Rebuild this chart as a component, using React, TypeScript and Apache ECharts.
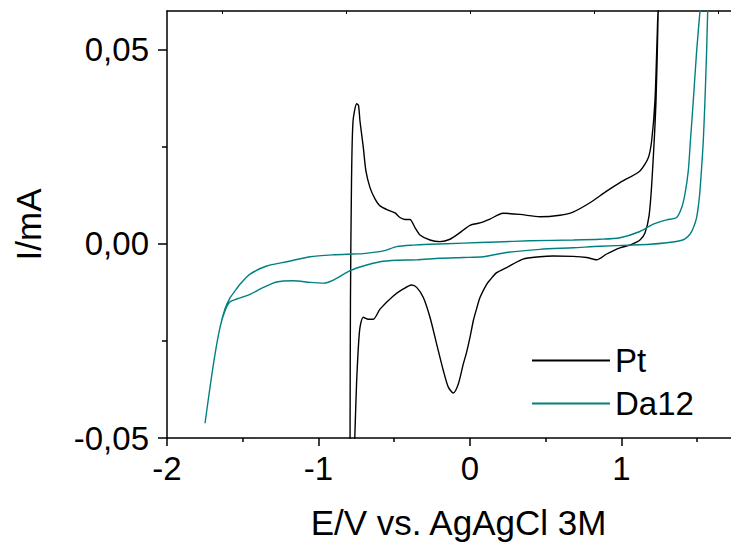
import React, { useEffect, useRef } from "react";
import * as echarts from "echarts";

// Pt curve (E in V, I in mA)
const ptE = [-0.792, -0.789, -0.782, -0.772, -0.748, -0.736, -0.726, -0.704, -0.687, -0.66, -0.627, -0.594, -0.528, -0.495, -0.462, -0.429, -0.396, -0.363, -0.33, -0.264, -0.198, -0.132, -0.066, 0.0, 0.066, 0.132, 0.218, 0.33, 0.462, 0.594, 0.68, 0.792, 0.902, 0.99, 1.122, 1.177, 1.199, 1.221, 1.236, 1.243,
  1.246, 1.228, 1.201, 1.182, 1.155, 1.122, 1.056, 0.99, 0.902, 0.836, 0.77, 0.68, 0.548, 0.462, 0.35, 0.242, 0.176, 0.132, 0.11, 0.066, 0.04, 0.022, 0.0, -0.023, -0.044, -0.077, -0.11, -0.143, -0.176, -0.22, -0.264, -0.308, -0.352, -0.385, -0.44, -0.506, -0.594, -0.638, -0.671, -0.704, -0.726, -0.737, -0.748, -0.759, -0.766];
const ptI = [-0.0558, -0.0147, 0.0162, 0.0316, 0.0361, 0.0357, 0.0316, 0.0248, 0.0188, 0.0145, 0.0116, 0.0098, 0.0085, 0.008, 0.0068, 0.0063, 0.0063, 0.0042, 0.0023, 0.001, 0.0006, 0.0012, 0.0029, 0.0048, 0.0054, 0.0064, 0.0079, 0.0076, 0.007, 0.0074, 0.0082, 0.0106, 0.0136, 0.0158, 0.0188, 0.0222, 0.0265, 0.0368, 0.0539, 0.0612,
  0.0612, 0.0368, 0.0162, 0.0072, 0.0028, 0.001, -0.0003, -0.001, -0.0026, -0.0041, -0.0035, -0.0032, -0.0031, -0.0033, -0.0039, -0.0061, -0.0074, -0.0093, -0.0104, -0.0138, -0.0172, -0.0198, -0.0241, -0.028, -0.0309, -0.0361, -0.0384, -0.0369, -0.0326, -0.0258, -0.0189, -0.0138, -0.0112, -0.0106, -0.0116, -0.0134, -0.0168, -0.0194, -0.0194, -0.0189, -0.0215, -0.0267, -0.0352, -0.0481, -0.0558];

// Da12 curve
const daE = [1.571, 1.569, 1.562, 1.551, 1.54, 1.529, 1.515, 1.496, 1.472, 1.452, 1.419, 1.386, 1.298, 1.188, 1.078, 0.858, 0.682, 0.462, 0.242, 0.088, -0.044, -0.198, -0.352, -0.484, -0.594, -0.704, -0.792, -0.902, -0.968, -1.056, -1.166, -1.276, -1.364, -1.452, -1.54, -1.584, -1.617, -1.65, -1.683, -1.716, -1.749,
  -1.716, -1.683, -1.65, -1.617, -1.584, -1.551, -1.518, -1.452, -1.342, -1.21, -1.056, -0.902, -0.77, -0.704, -0.572, -0.484, -0.374, -0.264, -0.044, 0.176, 0.396, 0.682, 0.858, 0.99, 1.122, 1.21, 1.298, 1.364, 1.397, 1.419, 1.441, 1.455, 1.474, 1.496, 1.518, 1.52];
const daI = [0.0612, 0.0599, 0.0496, 0.0368, 0.0265, 0.0196, 0.0123, 0.0068, 0.0039, 0.0025, 0.0013, 0.0008, 0.0003, -0.0001, -0.0003, -0.0006, -0.001, -0.0014, -0.0022, -0.0033, -0.0035, -0.0037, -0.0041, -0.0042, -0.0046, -0.0057, -0.0069, -0.0093, -0.0101, -0.0099, -0.0095, -0.0098, -0.0112, -0.013, -0.0142, -0.0149, -0.0172, -0.0215, -0.0284, -0.0369, -0.0462,
  -0.0369, -0.0284, -0.0215, -0.0167, -0.0139, -0.0121, -0.0104, -0.0078, -0.0057, -0.0046, -0.0033, -0.0028, -0.0026, -0.0025, -0.0018, -0.0007, -0.0003, -0.0001, 0.0002, 0.0005, 0.0008, 0.001, 0.0012, 0.0016, 0.0032, 0.0051, 0.0062, 0.0068, 0.0093, 0.0128, 0.0188, 0.0265, 0.0368, 0.0496, 0.0599, 0.0612];

const xMajorTicks = [-2, -1, 0, 1];
const xMinorTicks = [-1.5, -0.5, 0.5, 1.5];
const xTopTicks = [-1.636, -0.818, 0, 0.818, 1.636];
const yMajorTicks = [-0.05, 0, 0.05];
const yMinorTicks = [-0.025, 0.025];

const FONT = "'Liberation Sans', Arial, sans-serif";
const X_MIN = -2;
const X_MAX = 1.723;
const Y_MIN = -0.05;
const Y_MAX = 0.06;

const zip = (a: number[], b: number[]) => a.map((v, i) => [v, b[i]]);

export default function App() {
  const ref = useRef<HTMLDivElement>(null);
  useEffect(() => {
    const chart = echarts.init(ref.current!, null, { renderer: "svg" });
    const axisLineStyle = { color: "#000", width: 1.5 };
    const option: any = {
      animation: false,
      backgroundColor: "#fff",
      grid: { left: 167, top: 11, width: 564, height: 427, outerBoundsMode: "none" },
      legend: {
        left: 527,
        top: 339,
        orient: "vertical",
        itemWidth: 78,
        itemHeight: 2,
        itemGap: 10,
        icon: "rect",
        data: ["Pt", "Da12"],
        textStyle: { fontSize: 33, fontFamily: FONT, color: "#000", lineHeight: 33 },
      },
      xAxis: [
        {
          type: "value",
          min: X_MIN,
          max: X_MAX,
          position: "bottom",
          axisLine: { show: true, onZero: false, lineStyle: axisLineStyle },
          axisTick: { show: true, inside: false, length: 8, customValues: xMajorTicks, lineStyle: axisLineStyle },
          axisLabel: {
            customValues: xMajorTicks,
            fontSize: 33,
            fontFamily: FONT,
            color: "#000",
            margin: 14,
            formatter: (v: number) => String(v),
          },
          splitLine: { show: false },
          name: "E/V vs. AgAgCl 3M",
          nameLocation: "middle",
          nameGap: 67,
          nameTextStyle: { fontSize: 35, fontFamily: FONT, color: "#000", padding: [0, 0, 0, 19] },
        },
        {
          type: "value",
          min: X_MIN,
          max: X_MAX,
          position: "bottom",
          axisLine: { show: false, onZero: false },
          axisTick: { show: true, inside: false, length: 4, customValues: xMinorTicks, lineStyle: axisLineStyle },
          axisLabel: { show: false },
          splitLine: { show: false },
        },
        {
          type: "value",
          min: X_MIN,
          max: X_MAX,
          position: "top",
          axisLine: { show: true, onZero: false, lineStyle: axisLineStyle },
          axisTick: { show: true, inside: true, length: 3, customValues: xTopTicks, lineStyle: { color: "#000", width: 1 } },
          axisLabel: { show: false },
          splitLine: { show: false },
        },
      ],
      yAxis: [
        {
          type: "value",
          min: Y_MIN,
          max: Y_MAX,
          position: "left",
          axisLine: { show: true, onZero: false, lineStyle: axisLineStyle },
          axisTick: { show: true, inside: false, length: 9, customValues: yMajorTicks, lineStyle: axisLineStyle },
          axisLabel: {
            customValues: yMajorTicks,
            fontSize: 33,
            fontFamily: FONT,
            color: "#000",
            margin: 18,
            formatter: (v: number) => v.toFixed(2).replace(".", ","),
          },
          splitLine: { show: false },
          name: "I/mA",
          nameLocation: "middle",
          nameRotate: 90,
          nameGap: 121,
          nameTextStyle: { fontSize: 35, fontFamily: FONT, color: "#000" },
        },
        {
          type: "value",
          min: Y_MIN,
          max: Y_MAX,
          position: "left",
          axisLine: { show: false, onZero: false },
          axisTick: { show: true, inside: false, length: 5, customValues: yMinorTicks, lineStyle: axisLineStyle },
          axisLabel: { show: false },
          splitLine: { show: false },
        },
      ],
      series: [
        {
          name: "Pt",
          type: "line",
          xAxisIndex: 0,
          yAxisIndex: 0,
          data: zip(ptE, ptI),
          showSymbol: false,
          symbol: "none",
          smooth: 0.25,
          clip: true,
          color: "#000000",
          lineStyle: { color: "#000000", width: 1.4 },
        },
        {
          name: "Da12",
          type: "line",
          xAxisIndex: 0,
          yAxisIndex: 0,
          data: zip(daE, daI),
          showSymbol: false,
          symbol: "none",
          smooth: 0.25,
          clip: true,
          color: "#008080",
          lineStyle: { color: "#008080", width: 1.4 },
        },
      ],
    };
    chart.setOption(option);
    return () => chart.dispose();
  }, []);
  return (
    <div
      ref={ref}
      style={{ position: "fixed", left: 0, top: 0, width: 731, height: 542, background: "#fff" }}
    />
  );
}
